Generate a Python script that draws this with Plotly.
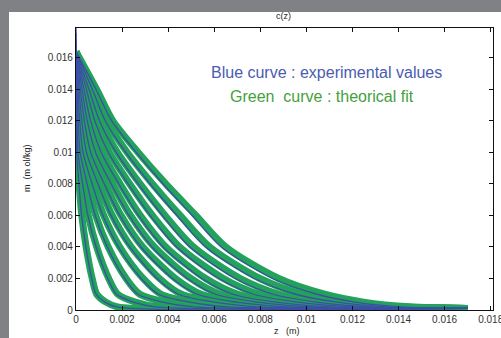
import plotly.graph_objects as go

# concentration levels (mol/kg) at which each profile's depth is read
levels = [0.014, 0.012, 0.010, 0.008, 0.006, 0.004, 0.002, 0.001, 0.0005, 0.0002]
surface_fit = 0.0164
tail_z = 0.017
tail_m = 0.0001

# depth (mm) where each fitted profile crosses the levels above
fit_depth_mm = [
    [0.004, 0.013, 0.031, 0.132, 0.251, 0.44, 0.704, 0.902, 1.298, 1.804],
    [0.019, 0.045, 0.091, 0.295, 0.532, 0.90, 1.420, 1.813, 2.571, 3.537],
    [0.047, 0.097, 0.186, 0.496, 0.857, 1.40, 2.177, 2.771, 3.868, 5.264],
    [0.085, 0.169, 0.312, 0.725, 1.202, 1.90, 2.913, 3.693, 5.071, 6.821],
    [0.136, 0.260, 0.469, 0.982, 1.569, 2.40, 3.625, 4.580, 6.181, 8.208],
    [0.198, 0.372, 0.658, 1.266, 1.956, 2.90, 4.316, 5.431, 7.197, 9.425],
    [0.271, 0.503, 0.878, 1.576, 2.365, 3.40, 4.984, 6.247, 8.120, 10.472],
    [0.357, 0.653, 1.129, 1.915, 2.794, 3.90, 5.630, 7.027, 8.949, 11.349],
    [0.464, 0.842, 1.444, 2.332, 3.318, 4.50, 6.395, 7.949, 9.904, 12.330],
    [0.585, 1.054, 1.797, 2.782, 3.867, 5.10, 7.133, 8.828, 10.747, 13.107],
    [0.733, 1.313, 2.225, 3.322, 4.519, 5.80, 7.983, 9.834, 11.679, 13.920],
    [0.897, 1.599, 2.698, 3.900, 5.200, 6.50, 8.801, 10.790, 12.480, 14.495],
]

# measured surface value (z = 0) of each experimental profile
exp_surface = [0.0180, 0.0176, 0.0171, 0.0168, 0.0166, 0.0165,
               0.0165, 0.0164, 0.0164, 0.0164, 0.0164, 0.0164]
# depth (mm) where each experimental profile crosses the levels
exp_depth_mm = [
    [0.004, 0.013, 0.030, 0.128, 0.243, 0.427, 0.683, 0.875, 1.259, 1.750],
    [0.018, 0.044, 0.088, 0.286, 0.516, 0.873, 1.377, 1.759, 2.494, 3.431],
    [0.046, 0.094, 0.180, 0.481, 0.831, 1.358, 2.112, 2.688, 3.752, 5.106],
    [0.082, 0.164, 0.303, 0.703, 1.166, 1.843, 2.826, 3.582, 4.919, 6.616],
    [0.132, 0.252, 0.455, 0.953, 1.522, 2.328, 3.516, 4.443, 5.996, 7.962],
    [0.192, 0.361, 0.638, 1.228, 1.897, 2.813, 4.187, 5.268, 6.981, 9.142],
    [0.263, 0.488, 0.852, 1.529, 2.294, 3.298, 4.834, 6.060, 7.876, 10.158],
    [0.346, 0.633, 1.095, 1.858, 2.710, 3.783, 5.461, 6.816, 8.681, 11.009],
    [0.450, 0.817, 1.401, 2.262, 3.218, 4.365, 6.203, 7.711, 9.607, 11.960],
    [0.567, 1.022, 1.743, 2.699, 3.751, 4.947, 6.919, 8.563, 10.425, 12.714],
    [0.711, 1.274, 2.158, 3.222, 4.383, 5.626, 7.744, 9.539, 11.329, 13.502],
    [0.870, 1.551, 2.617, 3.783, 5.044, 6.305, 8.537, 10.466, 12.106, 14.060],
]

x_tick_vals = [0, 0.002, 0.004, 0.006, 0.008, 0.010, 0.012, 0.014, 0.016, 0.018]
x_tick_text = ["0", "0.002", "0.004", "0.006", "0.008", "0.01", "0.012", "0.014", "0.016", "0.018"]
y_tick_vals = [0, 0.002, 0.004, 0.006, 0.008, 0.010, 0.012, 0.014, 0.016]
y_tick_text = ["0", "0.002", "0.004", "0.006", "0.008", "0.01", "0.012", "0.014", "0.016"]

GREEN = "#22a25a"
BLUE = "#3c4fa6"
FONT = "Liberation Sans, Arial, sans-serif"

fig = go.Figure()

for row in fit_depth_mm:
    xs = [0.0] + [v / 1000 for v in row] + [tail_z]
    ys = [surface_fit] + levels + [tail_m]
    fig.add_trace(go.Scatter(x=xs, y=ys, mode="lines",
                             line=dict(color=GREEN, width=7, shape="spline", smoothing=0.8),
                             hoverinfo="skip", showlegend=False))

for s, row in zip(exp_surface, exp_depth_mm):
    xs = [0.0] + [v / 1000 for v in row] + [tail_z]
    ys = [s] + levels + [tail_m]
    fig.add_trace(go.Scatter(x=xs, y=ys, mode="lines",
                             line=dict(color=BLUE, width=1.3, shape="spline", smoothing=0.8),
                             hoverinfo="skip", showlegend=False))

W, H = 501, 338
ML, MR, MT, MB = 76, 8, 28, 28
pw, ph = W - ML - MR, H - MT - MB


def px_x(p):
    return (p - ML) / pw


def px_y(p):
    return (H - MB - p) / ph


GRAY = "#808184"
shapes = [
    dict(type="rect", xref="paper", yref="paper", x0=px_x(0), x1=px_x(W),
         y0=px_y(12), y1=px_y(0), fillcolor=GRAY, line=dict(width=0), layer="above"),
    dict(type="rect", xref="paper", yref="paper", x0=px_x(0), x1=px_x(9),
         y0=px_y(H), y1=px_y(0), fillcolor=GRAY, line=dict(width=0), layer="above"),
]

axis_common = dict(showgrid=False, zeroline=False, showline=True, linecolor="#111",
                   linewidth=1.3, mirror="ticks", ticks="inside", ticklen=4,
                   tickcolor="#111", ticklabeloverflow="allow", automargin=False,
                   tickfont=dict(family=FONT, size=10, color="#333"))


def label(text, x, y, size, color, angle=0):
    return dict(text=text, xref="paper", yref="paper", x=px_x(x), y=px_y(y),
                xanchor="center", yanchor="middle", textangle=angle,
                showarrow=False, font=dict(family=FONT, size=size, color=color))


fig.update_layout(
    width=W, height=H,
    margin=dict(l=ML, r=MR, t=MT, b=MB, autoexpand=False),
    paper_bgcolor="white", plot_bgcolor="white",
    shapes=shapes,
    xaxis=dict(range=[0, 0.0181], tickvals=x_tick_vals, ticktext=x_tick_text, **axis_common),
    yaxis=dict(range=[0, 0.0179], tickvals=y_tick_vals, ticktext=y_tick_text, **axis_common),
    annotations=[
        label("c(z)", 283, 16, 9, "#222"),
        label("z   (m)", 287, 331, 9, "#222"),
        label("m  (m ol/kg)", 27, 168, 9, "#222", -90),
        label("Blue curve : experimental values", 326, 73, 16, "#4a5cb0"),
        label("Green  curve : theorical fit", 322, 96, 16, "#45a040"),
    ],
)

fig.write_html("out.html", config={"displayModeBar": False},
               post_script="document.body.style.margin='0';document.body.style.overflow='hidden';")
